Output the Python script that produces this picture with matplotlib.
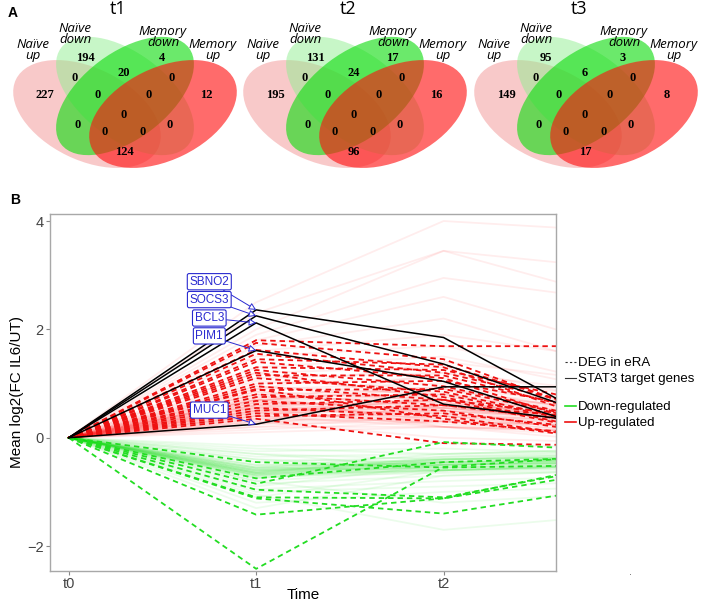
import matplotlib

matplotlib.use("Agg")
import matplotlib.pyplot as plt
from matplotlib.lines import Line2D
from matplotlib.patches import Ellipse

# ---------------- data: panel A (Venn counts) ----------------
venn_titles = ["t1", "t2", "t3"]
set_names = ["Naïve\nup", "Naïve\ndown", "Memory\ndown", "Memory\nup"]
# region order: Nu, Nd, Md, Mu, Nu&Nd, Nd&Md, Md&Mu, Nu&Nd&Md, Nd&Md&Mu,
#               all, Nu&Md, Nu&Md&Mu, Nu&Nd&Mu, Nd&Mu, Nu&Mu
t1_counts = [227, 194, 4, 12, 0, 20, 0, 0, 0, 0, 0, 0, 0, 0, 124]
t2_counts = [195, 131, 17, 16, 0, 24, 0, 0, 0, 0, 0, 0, 0, 0, 96]
t3_counts = [149, 95, 3, 8, 0, 6, 0, 0, 0, 0, 0, 0, 0, 0, 17]

# ---------------- data: panel B (mean log2 FC per time point) ----------------
time_labels = ["t0", "t1", "t2", "t3"]
time_x = [0, 1, 2, 3]

stat3_genes = ["SBNO2", "SOCS3", "BCL3", "PIM1", "MUC1"]
stat3_vals = [
    [2.36, 1.85, -0.02],
    [2.25, 1.36, 0.18],
    [2.12, 0.62, 0.19],
    [1.61, 1.04, -0.04],
    [0.25, 0.94, 0.94],
]

era_up = [
    [1.80, 1.69, 1.69], [1.75, 1.45, 0.20], [1.62, 1.30, 0.10], [1.55, 1.20, 0.40],
    [1.45, 1.35, 0.30], [1.40, 1.10, 0.00], [1.30, 1.25, 0.50], [1.25, 0.95, 0.20],
    [1.15, 1.15, 0.30], [1.10, 0.85, 0.10], [1.00, 1.05, 0.40], [0.95, 0.70, 0.00],
    [0.88, 0.90, 0.20], [0.80, 0.60, 0.30], [0.75, 0.80, 0.10], [0.68, 0.50, 0.00],
    [0.62, 0.70, 0.30], [0.55, 0.40, -0.10], [0.50, 0.60, 0.20], [0.45, 0.30, 0.00],
    [0.40, 0.45, 0.10], [0.35, -0.10, -0.15], [1.20, 0.75, 0.00], [0.90, 0.35, -0.10],
]

era_down = [
    [-2.42, -0.54, -0.30],
    [-1.42, -1.12, -0.55],
    [-1.12, -1.40, -0.85],
    [-1.10, -1.12, -0.40],
    [-0.96, -1.10, -0.45],
    [-0.85, -0.08, -0.25],
    [-0.75, -0.45, -0.35],
    [-0.45, -0.55, -0.50],
]

bg_up = [
    [2.5, 4.0, 3.8], [2.3, 3.45, 3.1], [2.0, 3.45, 2.5], [1.9, 2.95, 2.5],
    [1.8, 2.6, 1.6], [1.7, 2.2, 1.2], [1.6, 1.9, 1.4], [1.5, 1.7, 0.9],
    [1.3, 1.5, 0.8], [1.2, 1.3, 0.6], [1.1, 1.2, 0.5], [1.05, 0.9, 0.4],
    [1.0, 1.1, 0.7], [0.95, 0.8, 0.3], [0.9, 1.0, 0.5], [0.85, 0.7, 0.2],
    [0.8, 0.9, 0.4], [0.8, 0.6, 0.3], [0.75, 0.8, 0.5], [0.7, 0.5, 0.2],
    [0.7, 0.9, 0.6], [0.65, 0.6, 0.3], [0.6, 0.7, 0.4], [0.6, 0.4, 0.1],
    [0.55, 0.5, 0.3], [0.55, 0.8, 0.5], [0.5, 0.6, 0.2], [0.5, 0.3, 0.1],
    [0.45, 0.5, 0.3], [0.45, 0.7, 0.4], [0.4, 0.4, 0.2], [0.4, 0.2, 0.0],
    [0.35, 0.5, 0.3], [0.35, 0.3, 0.2], [0.3, 0.4, 0.1], [0.3, 0.0, -0.1],
    [0.25, 0.3, 0.2], [0.25, 0.6, 0.4], [0.2, 0.2, 0.1], [0.2, 0.4, 0.3],
    [0.15, 0.3, 0.2], [0.1, 0.2, 0.1], [0.65, 1.2, 0.8], [0.9, 1.4, 1.0],
    [0.7, 0.3, 0.0], [0.55, 0.2, -0.1], [1.2, 0.7, 0.2], [0.8, 0.2, 0.1],
    [0.75, 0.65, 0.35], [0.7, 0.75, 0.45], [0.65, 0.55, 0.25], [0.6, 0.65, 0.35],
    [0.58, 0.55, 0.3], [0.52, 0.45, 0.2], [0.5, 0.7, 0.45], [0.48, 0.55, 0.25],
    [0.42, 0.6, 0.3], [0.38, 0.45, 0.25], [0.33, 0.55, 0.35], [0.28, 0.35, 0.15],
    [0.62, 0.85, 0.55], [0.68, 0.95, 0.6], [0.72, 0.45, 0.15], [0.57, 0.35, 0.05],
    [0.47, 0.25, 0.05], [0.85, 0.55, 0.25], [0.95, 0.65, 0.3], [0.4, 0.75, 0.5],
]

bg_down = [
    [-0.15, -0.1, -0.2], [-0.2, -0.3, -0.25], [-0.25, -0.2, -0.3], [-0.3, -0.4, -0.35],
    [-0.35, -0.3, -0.2], [-0.4, -0.45, -0.4], [-0.45, -0.35, -0.3], [-0.5, -0.5, -0.45],
    [-0.5, -0.4, -0.35], [-0.55, -0.45, -0.4], [-0.55, -0.6, -0.5], [-0.58, -0.5, -0.45],
    [-0.6, -0.4, -0.3], [-0.6, -0.55, -0.5], [-0.62, -0.45, -0.4], [-0.65, -0.5, -0.45],
    [-0.65, -0.6, -0.55], [-0.68, -0.4, -0.35], [-0.7, -0.55, -0.5], [-0.7, -0.45, -0.4],
    [-0.72, -0.65, -0.6], [-0.75, -0.5, -0.4], [-0.8, -0.6, -0.5], [-0.85, -0.7, -0.6],
    [-0.9, -0.5, -0.45], [-0.95, -0.8, -0.7], [-1.0, -0.9, -0.8], [-1.05, -1.7, -1.4],
    [-1.1, -0.6, -0.5], [-1.2, -1.0, -0.9], [-1.3, -0.7, -0.6], [-0.4, -0.6, -0.5],
    [-0.3, -0.55, -0.45], [-0.55, -0.3, -0.2], [-0.65, -0.35, -0.25], [-0.8, -1.2, -1.0],
    [-0.58, -0.45, -0.4], [-0.6, -0.5, -0.42], [-0.62, -0.55, -0.48], [-0.64, -0.42, -0.36],
    [-0.66, -0.48, -0.44], [-0.68, -0.52, -0.46], [-0.7, -0.6, -0.52], [-0.56, -0.4, -0.34],
    [-0.52, -0.47, -0.4], [-0.74, -0.58, -0.5], [-0.63, -0.38, -0.3], [-0.67, -0.62, -0.56],
]

# ---------------- layout ----------------
W, H = 708, 602

# Venn geometry in pixels of a 240x180 box (y grows downwards)
ell_specs = [
    ((87, 114), 158, 92, 26, "#f08080", 0.42),    # Naive up
    ((125, 96), 160, 86, 37, "#90ee90", 0.50),    # Naive down
    ((125, 96), 160, 86, -37, "#11dd11", 0.62),   # Memory down
    ((163, 114), 158, 92, -26, "#ff1010", 0.62),  # Memory up
]
region_pos = [
    (45, 95), (85, 58), (162, 58), (206, 95),
    (75, 78), (124, 73), (172, 78), (98, 95),
    (149, 95), (124, 115), (78, 125), (105, 132),
    (143, 132), (170, 125), (124, 152),
]
name_pos = [(33, 50), (75, 34), (163, 37), (213, 50)]

fig = plt.figure(figsize=(W / 100, H / 100), dpi=100)

venn_left_px = [0, 230, 461]
for title, counts, left in zip(venn_titles, [t1_counts, t2_counts, t3_counts], venn_left_px):
    vax = fig.add_axes([left / W, 1 - 180 / H, 240 / W, 180 / H])
    vax.set_xlim(0, 240)
    vax.set_ylim(180, 0)
    vax.axis("off")
    vax.patch.set_alpha(0)
    for (c, w, h, ang, col, alpha) in ell_specs:
        vax.add_patch(Ellipse(c, w, h, angle=ang, facecolor=col,
                              alpha=alpha, edgecolor="none"))
    for (x, y), n in zip(region_pos, counts):
        vax.text(x, y, str(n), ha="center", va="center", fontsize=9,
                 family="Liberation Serif", fontweight="bold")
    for (x, y), name in zip(name_pos, set_names):
        vax.text(x, y, name, ha="center", va="center", fontsize=9.5,
                 family="Open Sans", style="italic", linespacing=0.8)
    vax.text(118, 9, title, ha="center", va="center", fontsize=13,
             family="Open Sans")

fig.text(8 / W, 1 - 13 / H, "A", fontsize=10, fontweight="bold",
         ha="left", va="center", family="Liberation Sans")
fig.text(10 / W, 1 - 200 / H, "B", fontsize=10, fontweight="bold",
         ha="left", va="center", family="Liberation Sans")

# ---------------- panel B ----------------
ax = fig.add_axes([50 / W, 1 - 571 / H, 506 / W, 357 / H])

red = "#ee1111"
green = "#22dd22"

for row in bg_up:
    ax.plot(time_x, [0] + row, color="#ff0000", alpha=0.07, lw=1.3, zorder=1)
for row in bg_down:
    ax.plot(time_x, [0] + row, color="#00dd00", alpha=0.08, lw=1.3, zorder=1)

dash = (0, (3.0, 2.2))
for row in era_up:
    ax.plot(time_x, [0] + row, color=red, lw=1.3, ls=dash, zorder=2)
for row in era_down:
    ax.plot(time_x, [0] + row, color=green, lw=1.3, ls=dash, zorder=2)
for row in stat3_vals:
    ax.plot(time_x, [0] + row, color="black", lw=1.1, zorder=3)

label_y = [2.88, 2.55, 2.21, 1.88, 0.51]
for gene, row, ly in zip(stat3_genes, stat3_vals, label_y):
    ax.annotate(
        gene, xy=(1, row[0]), xytext=(0.75, ly), ha="center", va="center",
        fontsize=8.5, family="Liberation Sans", color="#2a2ad0", zorder=5,
        bbox=dict(boxstyle="round,pad=0.18,rounding_size=0.15", fc="white",
                  ec="#2a2ad0", lw=0.8),
        arrowprops=dict(arrowstyle="-|>,head_length=0.5,head_width=0.25",
                        color="#2a2ad0", fc="white", lw=0.7,
                        shrinkA=0, shrinkB=0),
    )

ax.set_xlim(-0.1, 2.6)
ax.set_ylim(-2.46, 4.13)
ax.set_xticks(time_x[:3])
ax.set_xticklabels(time_labels[:3])
ax.set_yticks([-2, 0, 2, 4])
ax.tick_params(colors="#888888", labelcolor="#444444", labelsize=10.5,
               length=3, width=0.8, pad=1.5)
for lab in ax.get_xticklabels() + ax.get_yticklabels():
    lab.set_family("Liberation Sans")
for sp in ax.spines.values():
    sp.set_color("#a8a8a8")
    sp.set_linewidth(1.0)
ax.set_xlabel("Time", fontsize=11, family="Liberation Sans", labelpad=-2)
ax.set_ylabel("Mean log2(FC IL6/UT)", fontsize=11, family="Liberation Sans",
              labelpad=2)

# legends
lt_handles = [
    Line2D([], [], color="#333333", lw=0.8, ls=(0, (2, 2))),
    Line2D([], [], color="#333333", lw=0.8),
]
fig.legend(lt_handles, ["DEG in eRA", "STAT3 target genes"],
           loc="upper left", bbox_to_anchor=(565 / W, 1 - 357 / H),
           frameon=False, handlelength=0.8, handletextpad=0.2,
           labelspacing=0.3, borderpad=0, borderaxespad=0,
           prop={"family": "Liberation Sans", "size": 9.5})
col_handles = [
    Line2D([], [], color=green, lw=1.2),
    Line2D([], [], color=red, lw=1.2),
]
fig.legend(col_handles, ["Down-regulated", "Up-regulated"],
           loc="upper left", bbox_to_anchor=(565 / W, 1 - 401 / H),
           frameon=False, handlelength=0.8, handletextpad=0.2,
           labelspacing=0.3, borderpad=0, borderaxespad=0,
           prop={"family": "Liberation Sans", "size": 9.5})

fig.text(630 / W, 1 - 572 / H, ".", fontsize=7, color="#666666",
         ha="center", va="center")

fig.savefig("out.png", dpi=100)
